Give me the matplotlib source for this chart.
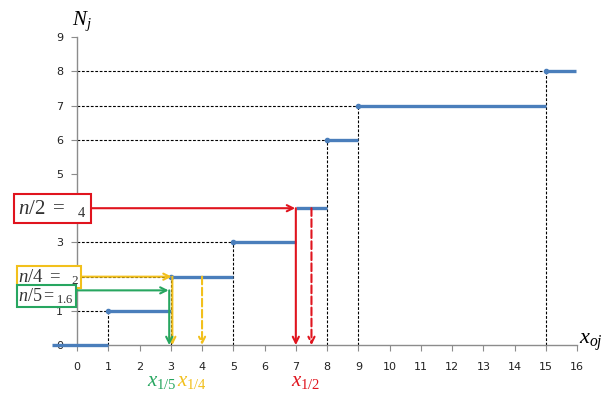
import matplotlib
matplotlib.use("Agg")
import matplotlib.pyplot as plt

# Data: cumulative frequency step function
step_x = [-0.8, 1, 3, 5, 7, 8, 9, 15]      # left ends of segments
step_end = [1, 3, 5, 7, 8, 9, 15, 15.95]   # right ends of segments
step_y = [0, 1, 2, 3, 4, 6, 7, 8]
dot_x = [1, 3, 5, 8, 9, 15]
dot_y = [1, 2, 3, 6, 7, 8]
guide_x = [1, 3, 5, 8, 9, 15]
guide_y = [1, 2, 3, 6, 7, 8]
xticks = list(range(0, 17))
yticks = list(range(0, 10))
ytick_labels = ["0", "1", "", "3", "", "5", "6", "7", "8", "9"]  # 2 and 4 hidden by boxes

# quantiles
q_levels = [4, 2, 1.6]
q_x = [7, 3.05, 2.95]
q_x_dash = [7.5, 4, None]
q_colors = ["#E0141E", "#F2C01C", "#27A660"]
q_box_text = [r"$n/2\ =\ \ _{4}\,$", r"$n/4\ =\ \ _{2}\,$", r"$n/5{=}_{1.6}$"]
q_box_y = [4, 1.99, 1.43]
q_box_size = [15, 13.5, 13]
q_box_pad = [0.2, 0.08, 0.08]
q_lab = [r"$x_{1/2}$", r"$x_{1/4}$", r"$x_{1/5}$"]
q_lab_x = [7.3, 3.68, 2.7]

plt.rcParams["mathtext.fontset"] = "custom"
plt.rcParams["mathtext.rm"] = "Liberation Serif"
plt.rcParams["mathtext.it"] = "Liberation Serif:italic"
plt.rcParams["mathtext.bf"] = "Liberation Serif:bold"

fig = plt.figure(figsize=(6.16, 3.94), dpi=100)
ax = fig.add_axes([0.125, 0.124, 0.812, 0.782])
ax.set_xlim(0, 16)
ax.set_ylim(0, 9)

blue = "#4A7EBB"

# guide dashed lines
for gx, gy in zip(guide_x, guide_y):
    ax.plot([0, gx], [gy, gy], color="black", lw=0.8, ls=(0, (2.5, 1.5)), zorder=2)
    ax.plot([gx, gx], [0, gy], color="black", lw=0.8, ls=(0, (2.5, 1.5)), zorder=2)

# step segments
for x0, x1, y in zip(step_x, step_end, step_y):
    ax.plot([x0, x1], [y, y], color=blue, lw=2.4, solid_capstyle="butt", zorder=4, clip_on=False)
ax.plot(dot_x, dot_y, "o", color=blue, ms=3, zorder=5)

# quantile arrows
for lev, qx, qxd, c in zip(q_levels, q_x, q_x_dash, q_colors):
    ax.annotate("", xy=(qx - 0.02, lev), xytext=(0, lev),
                arrowprops=dict(arrowstyle="->", color=c, lw=1.5, shrinkA=0, shrinkB=0,
                                mutation_scale=11), zorder=6)
    ax.annotate("", xy=(qx, 0), xytext=(qx, lev),
                arrowprops=dict(arrowstyle="->", color=c, lw=1.5, shrinkA=0, shrinkB=0,
                                mutation_scale=11), zorder=6)
    if qxd is not None:
        ax.annotate("", xy=(qxd, 0), xytext=(qxd, lev),
                    arrowprops=dict(arrowstyle="->", color=c, lw=1.5, ls="--", shrinkA=0,
                                    shrinkB=0, mutation_scale=11), zorder=6)

# boxes
for t, by, c, fs, pd in zip(q_box_text, q_box_y, q_colors, q_box_size, q_box_pad):
    ax.text(-1.88, by, t, ha="left", va="center", fontsize=fs, color="#333333",
            bbox=dict(boxstyle=f"square,pad={pd}", fc="white", ec=c, lw=1.5),
            clip_on=False, zorder=7)

for t, lx, c in zip(q_lab, q_lab_x, q_colors):
    ax.text(lx, -1.05, t, ha="center", va="center", fontsize=15, color=c, clip_on=False)

# axes labels
ax.text(0.15, 9.45, r"$N_j$", fontsize=15, ha="center", va="center", clip_on=False)
ax.text(16.45, 0.08, r"$x_{oj}$", fontsize=16, ha="center", va="center", clip_on=False)

for s in ["top", "right"]:
    ax.spines[s].set_visible(False)
for s in ["left", "bottom"]:
    ax.spines[s].set_color("#8C8C8C")
    ax.spines[s].set_linewidth(1.0)
ax.set_xticks(xticks)
ax.set_yticks(yticks)
ax.set_yticklabels(ytick_labels)
ax.tick_params(axis="both", colors="#8C8C8C", labelcolor="#222222", labelsize=8, length=4)
ax.tick_params(axis="x", pad=8)
ax.tick_params(axis="y", pad=6)

fig.savefig("out.png", dpi=100)
